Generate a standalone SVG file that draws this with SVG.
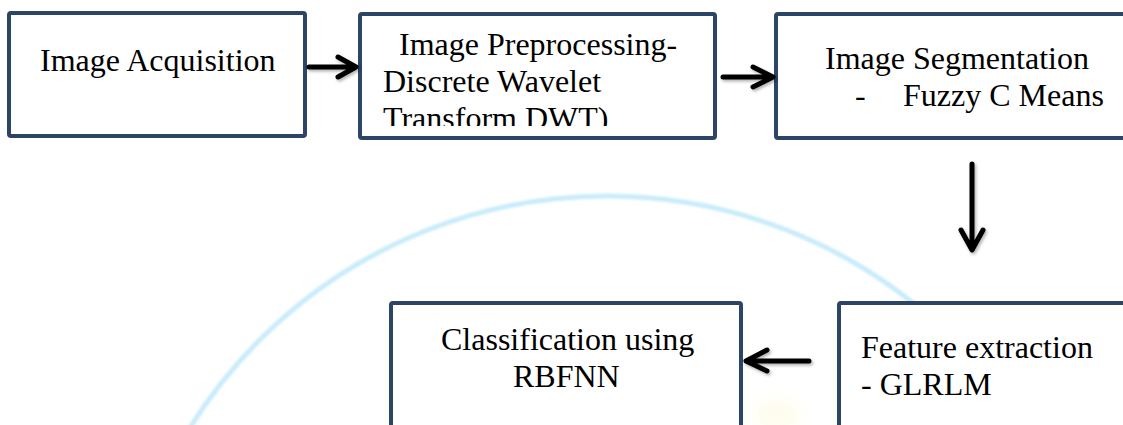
<svg xmlns="http://www.w3.org/2000/svg" width="1123" height="425" viewBox="0 0 1123 425">
<style>
.box{fill:#ffffff;stroke:#2c4567;stroke-width:4}
.t{font-family:"Liberation Serif","Times New Roman",serif;font-size:32px;fill:#000000}
.arr{fill:none;stroke:#000000;stroke-width:5;stroke-linecap:round;stroke-linejoin:round}
</style>
<defs>
<filter id="sh" x="-30%" y="-30%" width="160%" height="160%">
<feDropShadow dx="1.5" dy="2" stdDeviation="1.5" flood-color="#000000" flood-opacity="0.3"/>
</filter>
<filter id="blur" x="-50%" y="-50%" width="200%" height="200%">
<feGaussianBlur stdDeviation="8"/>
</filter>
<filter id="soft" x="-5%" y="-5%" width="110%" height="110%">
<feGaussianBlur stdDeviation="0.8"/>
</filter>
<clipPath id="clip2"><rect x="362" y="16" width="351" height="110"/></clipPath>
</defs>
<rect width="1123" height="425" fill="#ffffff"/>
<g id="background">
<circle cx="607" cy="687" r="491" fill="none" stroke="#c9ecfb" stroke-width="5" filter="url(#soft)"/>
<ellipse cx="778" cy="414" rx="24" ry="14" fill="#fffbe0" opacity="0.6" filter="url(#blur)"/>
</g>
<g id="node-acquisition">
<rect class="box" x="9" y="13" width="296" height="123" rx="2"/>
<text class="t" x="40" y="71">Image Acquisition</text>
</g>
<g id="node-preprocessing">
<rect class="box" x="360" y="14" width="355" height="124" rx="2"/>
<g clip-path="url(#clip2)">
<text class="t" x="399" y="55">Image Preprocessing-</text>
<text class="t" x="383" y="92">Discrete Wavelet</text>
<text class="t" x="383" y="129">Transform DWT)</text>
</g>
</g>
<g id="node-segmentation">
<rect class="box" x="776" y="14" width="352" height="124" rx="2"/>
<text class="t" x="825" y="69">Image Segmentation</text>
<text class="t" x="855" y="106">-</text>
<text class="t" x="903" y="106">Fuzzy C Means</text>
</g>
<g id="node-feature">
<rect class="box" x="839" y="303" width="290" height="130" rx="2"/>
<text class="t" x="861" y="358">Feature extraction</text>
<text class="t" x="861" y="395">- GLRLM</text>
</g>
<g id="node-classification">
<rect class="box" x="391" y="303" width="350" height="130" rx="2"/>
<text class="t" x="441" y="350">Classification using</text>
<text class="t" x="513" y="387">RBFNN</text>
</g>
<g id="connectors" filter="url(#sh)">
<path class="arr" d="M309 67 H355 M338 57 L356 67 L338 77"/>
<path class="arr" d="M723 77 H772 M753 67 L773 77 L753 87"/>
<path class="arr" d="M972 164 V249 M961 230 L972 250 L983 230"/>
<path class="arr" d="M809 361 H748 M767 350 L746 361 L767 371"/>
</g>
</svg>
